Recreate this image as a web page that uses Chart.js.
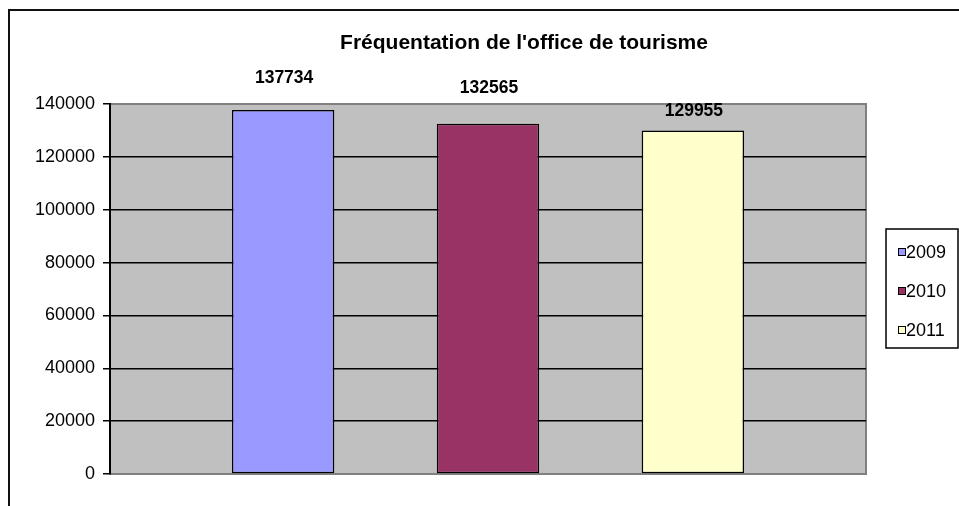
<!DOCTYPE html>
<html>
<head>
<meta charset="utf-8">
<title>Fréquentation de l'office de tourisme</title>
<script src="https://cdn.jsdelivr.net/npm/chart.js@4/dist/chart.umd.min.js"></script>
<style>
  body { margin: 0; background: #fff; }
  #wrap { width: 959px; height: 506px; }
</style>
</head>
<body>
<div id="wrap"><canvas id="chart" width="959" height="506"></canvas></div>
<script>
// data
var title = "Fréquentation de l'office de tourisme";
var years = ["2009", "2010", "2011"];
var visits = [137734, 132565, 129955];
var barColors = ["#9999FF", "#993366", "#FFFFCC"];
var yMax = 140000;
var yStep = 20000;

var FONT = "'Liberation Sans', Arial, sans-serif";

// excel puts the labels a bit randomly above the bars
var labelOffsets = [32, 35, 19];

function buildDatasets() {
  let ds = [];
  for (var i = 0; i < years.length; i++) {
    ds.push({
      label: years[i],
      data: [visits[i]],
      backgroundColor: barColors[i],
      borderColor: "#000",
      borderWidth: 1.5,
      borderSkipped: false,
      categoryPercentage: 0.813,
      barPercentage: 0.5
    });
  }
  return ds;
}

// gray plot background + frame around the whole chart
var plotBackground = {
  id: "plotBackground",
  beforeDraw: function(chart) {
    var ctx = chart.ctx;
    var a = chart.chartArea;
    ctx.save();
    ctx.fillStyle = "#C0C0C0";
    ctx.fillRect(a.left, a.top, a.right - a.left, a.bottom - a.top);
    ctx.strokeStyle = "#808080";
    ctx.lineWidth = 2;
    ctx.strokeRect(a.left, a.top, a.right - a.left, a.bottom - a.top);
    // outer chart border (right/bottom are outside the window)
    ctx.strokeStyle = "#111";
    ctx.lineWidth = 2;
    ctx.beginPath();
    ctx.moveTo(9, 506);
    ctx.lineTo(9, 10);
    ctx.lineTo(959, 10);
    ctx.stroke();
    ctx.restore();
  }
};

// title, value labels and the boxed legend
var extras = {
  id: "extras",
  afterDraw: function(chart) {
    var ctx = chart.ctx;
    ctx.save();
    ctx.fillStyle = "#000";
    ctx.textAlign = "center";
    ctx.textBaseline = "middle";
    ctx.font = "bold 21px " + FONT;
    ctx.fillText(title, 524, 43);

    //value labels
    ctx.font = "bold 17.5px " + FONT;
    chart.data.datasets.forEach(function(ds, i) {
      var bar = chart.getDatasetMeta(i).data[0];
      ctx.fillText(String(ds.data[0]), bar.x + 1, bar.y - labelOffsets[i]);
    });

    //legend box
    var lx = 886, ly = 229, lw = 72, lh = 119;
    ctx.fillStyle = "#fff";
    ctx.fillRect(lx, ly, lw, lh);
    ctx.strokeStyle = "#000";
    ctx.lineWidth = 1.5;
    ctx.strokeRect(lx, ly, lw, lh);
    ctx.font = "18px " + FONT;
    ctx.textAlign = "left";
    chart.data.datasets.forEach(function(ds, i) {
      var cy = 252 + i * 39;
      ctx.fillStyle = ds.backgroundColor;
      ctx.fillRect(898, cy - 4, 7, 7);
      ctx.strokeStyle = "#000";
      ctx.lineWidth = 1;
      ctx.strokeRect(898.5, cy - 3.5, 7, 7);
      ctx.fillStyle = "#000";
      ctx.fillText(ds.label, 906, cy + 1);
    });
    ctx.restore();
  }
};

new Chart(document.getElementById("chart"), {
  type: "bar",
  data: {
    labels: [""],
    datasets: buildDatasets()
  },
  options: {
    responsive: false,
    animation: false,
    layout: {
      padding: { left: 0, top: 104, right: 93, bottom: 32 }
    },
    plugins: {
      legend: { display: false },
      title: { display: false },
      tooltip: { enabled: false }
    },
    scales: {
      x: {
        display: false
      },
      y: {
        min: 0,
        max: yMax,
        afterFit: function(scale) {
          scale.width = 110;
        },
        ticks: {
          stepSize: yStep,
          color: "#000",
          padding: 8,
          font: { family: FONT, size: 18 },
          // plain numbers, no thousands separator
          callback: function(v) {
            return String(v);
          }
        },
        grid: {
          // no black line at the bottom / top edge of the plot
          color: function(c) {
            if (c.tick && (c.tick.value === 0 || c.tick.value === yMax)) {
              return "rgba(0,0,0,0)";
            }
            return "#000";
          },
          lineWidth: 1.5,
          tickLength: 7,
          tickColor: "#000"
        },
        border: { display: true, color: "#000", width: 2 }
      }
    }
  },
  plugins: [plotBackground, extras]
});
</script>
</body>
</html>
